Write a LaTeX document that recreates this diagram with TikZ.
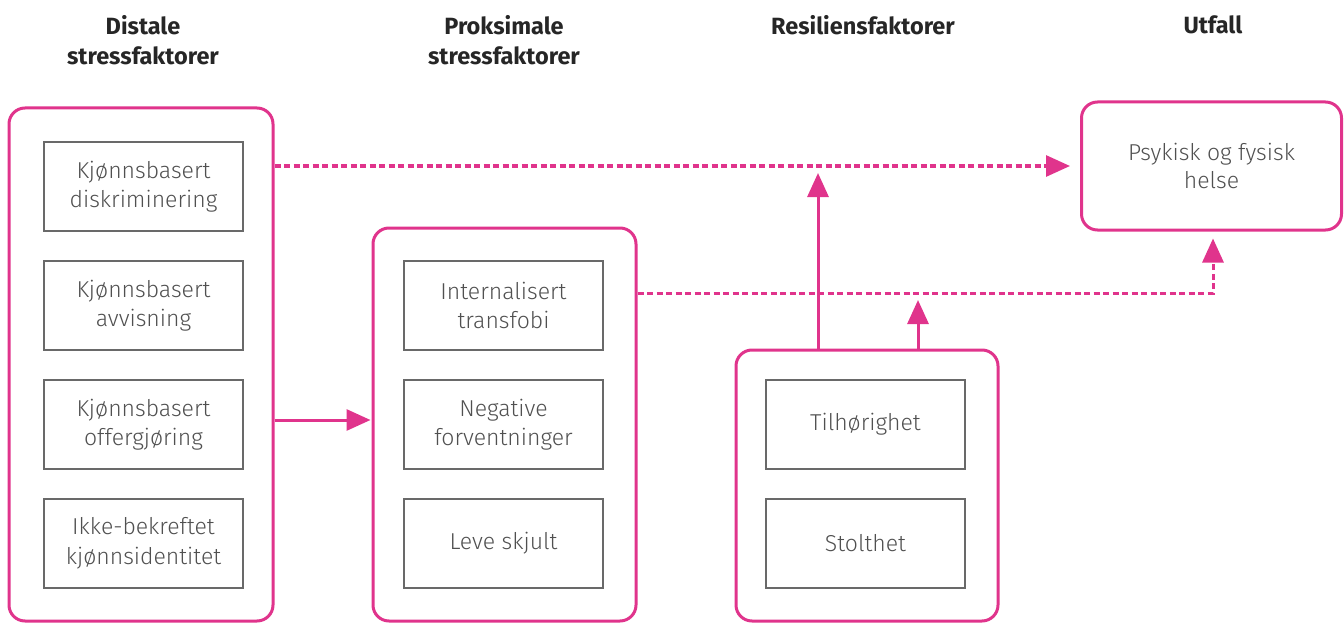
\documentclass[tikz,border=0pt]{standalone}
\usepackage{fontspec}
\setmainfont{Fira Sans}
\newfontfamily\lightfont{Fira Sans Light}
\usetikzlibrary{arrows.meta}
\definecolor{pinkc}{RGB}{224,52,140}
\definecolor{grayb}{RGB}{105,105,105}
\definecolor{grayt}{RGB}{80,80,80}
\tikzset{
  outerbox/.style={draw=pinkc, line width=3pt, rounded corners=16pt, inner sep=0pt},
  innerbox/.style={draw=grayb, line width=1.8pt, minimum width=199pt, minimum height=89pt,
    inner sep=0pt, align=center, text=grayt, font=\lightfont\fontsize{23}{29.5}\selectfont},
  titletext/.style={align=center, text=black!85, font=\fontsize{23.5}{29.5}\selectfont\bfseries},
  arr/.style={draw=pinkc, line width=3pt, -{Triangle[length=24pt,width=21pt]}},
  darr/.style={arr, dash pattern=on 6pt off 3.5pt},
}
\begin{document}
\begin{tikzpicture}[x=1pt,y=-1pt]
\useasboundingbox (0,0) rectangle (1344,623);
% titles
\node[titletext] (t1) at (143,40) {Distale\\stressfaktorer};
\node[titletext] (t2) at (504,40) {Proksimale\\stressfaktorer};
\node[titletext] (t3) at (863,25) {Resiliensfaktorer};
\node[titletext] (t4) at (1213,25) {Utfall};
% outer boxes
\node[outerbox, minimum width=264pt, minimum height=513pt] (d) at (141,364.5) {};
\node[outerbox, minimum width=263pt, minimum height=393pt] (p) at (504.5,424.5) {};
\node[outerbox, minimum width=262pt, minimum height=271pt] (r) at (867,485.5) {};
\node[outerbox, minimum width=260pt, minimum height=128pt, align=center, text=grayt,
  font=\lightfont\fontsize{23}{28.5}\selectfont] (o) at (1211.5,166) {Psykisk og fysisk\\helse};
% distal items
\node[innerbox] (d1) at (143.5,186.5) {Kjønnsbasert\\diskriminering};
\node[innerbox] (d2) at (143.5,305.5) {Kjønnsbasert\\avvisning};
\node[innerbox] (d3) at (143.5,424.5) {Kjønnsbasert\\offergjøring};
\node[innerbox] (d4) at (143.5,543.5) {Ikke-bekreftet\\kjønnsidentitet};
% proximal items
\node[innerbox] (p1) at (503.5,305.5) {Internalisert\\transfobi};
\node[innerbox] (p2) at (503.5,424.5) {Negative\\forventninger};
\node[innerbox] (p3) at (503.5,543.5) {Leve skjult};
% resilience items
\node[innerbox] (r1) at (865.5,424.5) {Tilhørighet};
\node[innerbox] (r2) at (865.5,543.5) {Stolthet};
% connectors
\coordinate (k1) at (1213,293);
\coordinate (k0) at (636,293);
\coordinate (a1) at (818,173);
\coordinate (a2) at (918,300);
\draw[darr, shorten >=10pt] (d.east |- o.west) -- (o.west);
\draw[arr, shorten >=1pt] (d.east |- 0,420) -- (p.west |- 0,420);
\draw[darr, shorten >=7pt] (p.east |- k0) -- (k1) -- (o.south -| k1);
\draw[arr] (r.north -| a1) -- (a1);
\draw[arr] (r.north -| a2) -- (a2);
\end{tikzpicture}
\end{document}
